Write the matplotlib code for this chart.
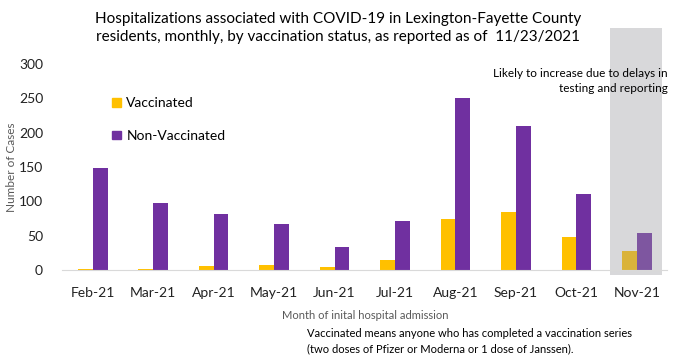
import matplotlib
matplotlib.use("Agg")
import matplotlib.pyplot as plt
from matplotlib.patches import Rectangle
import numpy as np

plt.rcParams['font.family'] = ['Lato', 'DejaVu Sans']

months = ["Feb-21", "Mar-21", "Apr-21", "May-21", "Jun-21", "Jul-21",
          "Aug-21", "Sep-21", "Oct-21", "Nov-21"]
vaccinated = [2, 2, 6, 8, 5, 15, 74, 85, 48, 27]
non_vaccinated = [148, 98, 82, 67, 34, 72, 251, 210, 111, 54]

fig = plt.figure(figsize=(6.77, 3.55), dpi=100)
ax = fig.add_axes([62.5 / 677, (355 - 270) / 355, (667 - 62.5) / 677, (270 - 64) / 355])

x = np.arange(len(months))
w = 0.245
# last month is shaded (incomplete), so its bars look muted
vac_colors = ["#ffc000"] * 9 + ["#dab33a"]
non_colors = ["#7030a0"] * 9 + ["#7e56a0"]
ax.bar(x - w / 2, vaccinated, w, color=vac_colors, label="Vaccinated", zorder=3)
ax.bar(x + w / 2, non_vaccinated, w, color=non_colors, label="Non-Vaccinated", zorder=3)

ax.add_patch(Rectangle((8.55, -7), 0.86, 359, facecolor="#d8d8da",
                       edgecolor="none", clip_on=False, zorder=1))

ax.set_xlim(-0.5, len(months) - 0.5)
ax.set_ylim(0, 300)
ax.set_yticks(range(0, 301, 50))
ax.set_xticks(x)
ax.set_xticklabels(months)
ax.tick_params(length=0, labelsize=10, colors="#222222")
ax.tick_params(axis="x", pad=12)
ax.tick_params(axis="y", pad=14)
for s in ["top", "right", "left"]:
    ax.spines[s].set_visible(False)
ax.spines["bottom"].set_color("#d9d9d9")
ax.spines["bottom"].set_zorder(4)

ax.set_ylabel("Number of Cases", fontsize=8.5, color="#595959")
ax.yaxis.set_label_coords(-0.075, 0.5)
ax.set_xlabel("Month of inital hospital admission", fontsize=8, color="#595959", labelpad=8)

leg = ax.legend(loc="upper left", bbox_to_anchor=(0.062, 0.9), frameon=False, fontsize=10,
                handlelength=0.6, handleheight=0.6, labelspacing=1.5, handletextpad=0.4)
leg.legend_handles[0].set_color("#ffc000")
leg.legend_handles[1].set_color("#7030a0")

fig.text(0.5, 1 - 28 / 355, "Hospitalizations associated with COVID-19 in Lexington-Fayette County\n"
         "residents, monthly, by vaccination status, as reported as of  11/23/2021",
         ha="center", va="center", fontsize=11, linespacing=1.35)
fig.text(667.7 / 677, 1 - 81 / 355, "Likely to increase due to delays in\ntesting and reporting",
         ha="right", va="center", fontsize=8.5, linespacing=1.4)
fig.text(307 / 677, 1 - 341 / 355, "Vaccinated means anyone who has completed a vaccination series\n"
         "(two doses of Pfizer or Moderna or 1 dose of Janssen).",
         ha="left", va="center", fontsize=8, linespacing=1.4)

fig.savefig("out.png", dpi=100)
